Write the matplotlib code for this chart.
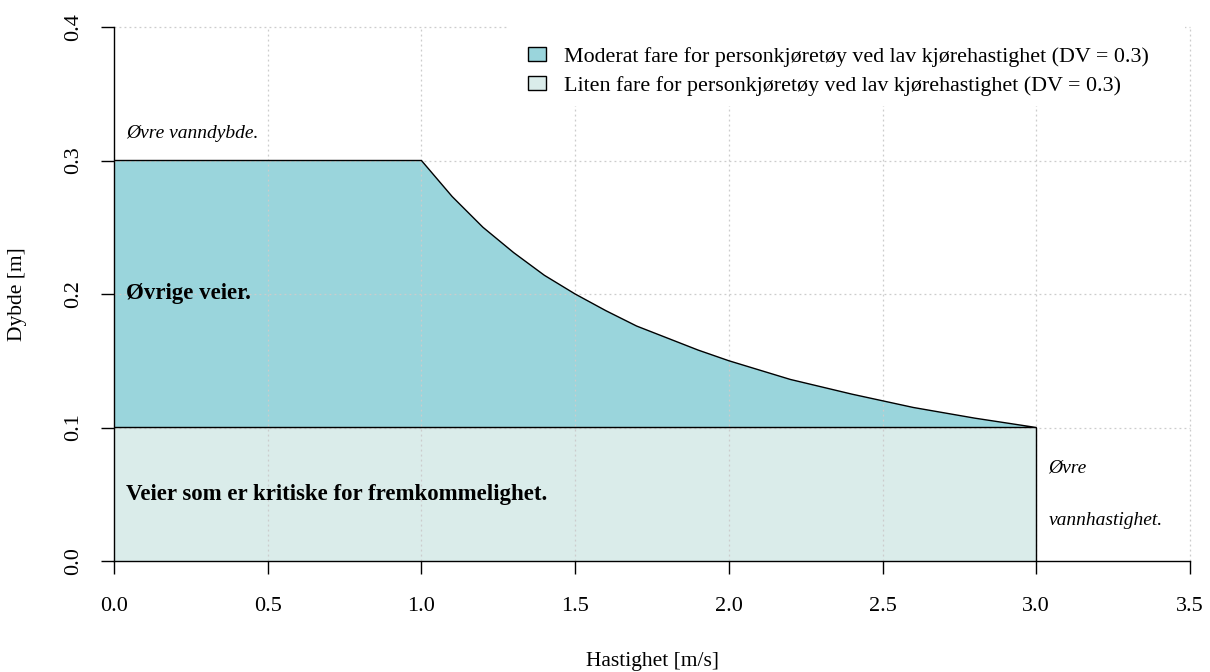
import matplotlib
matplotlib.use("Agg")
import matplotlib.pyplot as plt
from matplotlib.patches import Patch, Rectangle

plt.rcParams['font.family'] = ['Liberation Serif', 'DejaVu Serif']

# Data
speed_upper = [0.0, 1.0, 1.1, 1.2, 1.3, 1.4, 1.5, 1.6, 1.7, 1.8, 1.9, 2.0, 2.2, 2.4, 2.6, 2.8, 3.0]
depth_upper = [0.3, 0.3, 0.273, 0.25, 0.231, 0.214, 0.2, 0.1875, 0.176, 0.167, 0.158, 0.15, 0.136, 0.125, 0.115, 0.107, 0.1]
speed_lower = [0.0, 3.0]
depth_lower = [0.1, 0.1]
x_ticks = [0.0, 0.5, 1.0, 1.5, 2.0, 2.5, 3.0, 3.5]
y_ticks = [0.0, 0.1, 0.2, 0.3, 0.4]
legend_labels = ["Moderat fare for personkjøretøy ved lav kjørehastighet (DV = 0.3)",
                 "Liten fare for personkjøretøy ved lav kjørehastighet (DV = 0.3)"]

col_mod = "#9AD5DC"
col_lit = "#DAECEA"

fig = plt.figure(figsize=(12.1, 6.72), dpi=100)
ax = fig.add_axes([114/1210, 1-561/672, 1076/1210, 534/672])
ax.set_xlim(0, 3.5)
ax.set_ylim(0, 0.4)

# moderate region: between upper curve and 0.1
xs = list(speed_upper) + [speed_lower[-1], speed_lower[0]]
ys = list(depth_upper) + [depth_lower[-1], depth_lower[0]]
ax.fill(xs, ys, facecolor=col_mod, edgecolor="none", zorder=1)
# low region
xl = [speed_lower[0], speed_lower[1], speed_lower[1], speed_lower[0]]
yl = [0, 0, depth_lower[1], depth_lower[0]]
ax.fill(xl, yl, facecolor=col_lit, edgecolor="none", zorder=1)

# grid
for xv in x_ticks[1:]:
    ax.plot([xv, xv], [0, 0.4], linestyle=(0, (1.5, 2.5)), color="#cccccc", linewidth=0.9, zorder=2, clip_on=False)
for yv in y_ticks[1:]:
    ax.plot([0, 3.5], [yv, yv], linestyle=(0, (1.5, 2.5)), color="#cccccc", linewidth=0.9, zorder=2, clip_on=False)

# outlines above grid
ax.plot(xs, ys, color="black", linewidth=1.0, zorder=3)
ax.plot([speed_lower[1], speed_lower[1]], [0, depth_lower[1]], color="black", linewidth=1.0, zorder=3)

ax.set_xticks(x_ticks)
ax.set_xticklabels([f"{v:.1f}" for v in x_ticks])
ax.set_yticks(y_ticks)
ax.set_yticklabels([f"{v:.1f}" for v in y_ticks], rotation=90, va="center")
ax.tick_params(axis="both", direction="out", length=9.5, width=1, labelsize=16, colors="black")
ax.tick_params(axis="x", pad=16.5)
ax.tick_params(axis="y", pad=12.5)
for s in ["top", "right"]:
    ax.spines[s].set_visible(False)
for s in ["left", "bottom"]:
    ax.spines[s].set_linewidth(1.0)

ax.set_xlabel("Hastighet [m/s]", fontsize=15.5, labelpad=26)
ax.set_ylabel("Dybde [m]", fontsize=15.5, labelpad=27)

ax.text(0.04, 0.32, "Øvre vanndybde.", style="italic", fontsize=14, va="center", zorder=5)
ax.text(0.04, 0.2, "Øvrige veier.", fontweight="bold", fontsize=16.5, va="center", zorder=5)
ax.text(0.04, 0.05, "Veier som er kritiske for fremkommelighet.", fontweight="bold", fontsize=16.5, va="center", zorder=5)
ax.text(3.04, 0.07, "Øvre", style="italic", fontsize=14, va="center", zorder=5)
ax.text(3.04, 0.03, "vannhastighet.", style="italic", fontsize=14, va="center", zorder=5)

# white legend background box
bg = Rectangle((507/1210, 1-106/672), (1185-507)/1210, (106-15)/672, transform=fig.transFigure,
               facecolor="white", edgecolor="none", zorder=4)
fig.patches.append(bg)
ax.set_zorder(0)

handles = [Patch(facecolor=col_mod, edgecolor="black", linewidth=1.0),
           Patch(facecolor=col_lit, edgecolor="black", linewidth=1.0)]
leg = fig.legend(handles, legend_labels, loc="upper left", bbox_to_anchor=(528/1210, 1-47/672),
                 bbox_transform=fig.transFigure,
                 fontsize=15.8, frameon=False, handlelength=0.8, handleheight=0.63,
                 handletextpad=0.85, labelspacing=0.4, borderpad=0.0, borderaxespad=0.0)
leg.set_zorder(10)

fig.savefig("out.png", dpi=100)
